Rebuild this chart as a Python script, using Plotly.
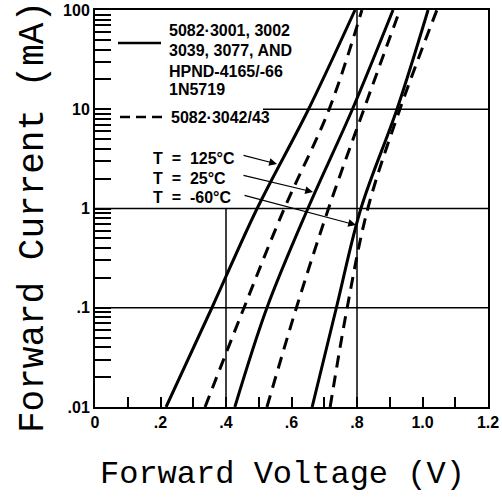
import math
import plotly.graph_objects as go

# ---- data ----
current_mA = [0.01, 0.1, 1, 10, 100]
solid_125C = [0.217, 0.357, 0.495, 0.652, 0.794]
solid_25C = [0.427, 0.525, 0.650, 0.786, 0.910]
solid_m60C = [0.663, 0.737, 0.812, 0.922, 1.017]
dash_125C = [0.336, 0.455, 0.578, 0.715, 0.815]
dash_25C = [0.525, 0.615, 0.713, 0.821, 0.931]
dash_m60C = [0.718, 0.770, 0.833, 0.931, 1.044]

x_tickvals = [0, 0.2, 0.4, 0.6, 0.8, 1.0, 1.2]
x_ticktext = ["0", ".2", ".4", ".6", ".8", "1.0", "1.2"]
x_minor = [0.1, 0.3, 0.5, 0.7, 0.9, 1.1]
y_tickvals = [0.01, 0.1, 1, 10, 100]
y_ticktext = [".01", ".1", "1", "10", "100"]
y_minor = [m * d for d in [0.01, 0.1, 1, 10] for m in range(2, 10)]

# partial grid segments (x list, y list)
grid_segments = [
    ([0.8, 0.8], [0.01, 100]),
    ([0.4, 0.4], [0.01, 1]),
    ([0, 1.2], [1, 1]),
    ([0, 1.2], [0.1, 0.1]),
    ([0.513, 1.2], [10, 10]),
]

fig = go.Figure()
for gx, gy in grid_segments:
    fig.add_trace(go.Scatter(x=gx, y=gy, mode="lines",
                             line=dict(color="black", width=1.5),
                             hoverinfo="skip", showlegend=False))

for vals in [solid_125C, solid_25C, solid_m60C]:
    fig.add_trace(go.Scatter(x=vals, y=current_mA, mode="lines",
                             line=dict(color="black", width=3, shape="spline", smoothing=1.0),
                             showlegend=False))
for vals in [dash_125C, dash_25C, dash_m60C]:
    fig.add_trace(go.Scatter(x=vals, y=current_mA, mode="lines",
                             line=dict(color="black", width=3, dash="12px,8px",
                                       shape="spline", smoothing=1.0),
                             showlegend=False))

PX_W, PX_H, L, T = 393, 397, 95, 10
def px(xp):
    return (xp - L) / PX_W
def py(yp):
    return (T + PX_H - yp) / PX_H

lab_font = dict(family="Liberation Sans, Arial, sans-serif", size=16, color="black", weight="bold")
annotations = []
legend_lines = [("5082·3001, 3002", 30), ("3039, 3077, AND", 50),
                ("HPND-4165/-66", 71), ("1N5719", 90)]
for txt, yy in legend_lines:
    annotations.append(dict(text=txt, xref="paper", yref="paper", x=px(167), y=py(yy),
                            xanchor="left", yanchor="middle", showarrow=False, font=lab_font))
annotations.append(dict(text="5082·3042/43", xref="paper", yref="paper", x=px(169), y=py(117),
                        xanchor="left", yanchor="middle", showarrow=False, font=lab_font))
t_labels = [("T\u00a0 =\u00a0 125°C", 158), ("T\u00a0 =\u00a0 25°C", 178), ("T\u00a0 =\u00a0 -60°C", 197)]
for txt, yy in t_labels:
    annotations.append(dict(text=txt, xref="paper", yref="paper", x=px(151), y=py(yy),
                            xanchor="left", yanchor="middle", showarrow=False, font=lab_font))

# arrows: tail pixel, head pixel
arrows = [((242, 155), (277, 164)), ((242, 175), (313, 192)), ((243, 195), (356, 225))]
for (tx, ty), (hx, hy) in arrows:
    annotations.append(dict(text="", xref="paper", yref="paper", x=px(hx), y=py(hy),
                            ax=tx - hx, ay=ty - hy, showarrow=True, arrowhead=2,
                            arrowsize=1.3, arrowwidth=1.2, arrowcolor="black", standoff=0))

title_font = dict(family="Courier New, Liberation Mono, monospace", size=32, color="black")
annotations.append(dict(text="Forward Voltage (V)", xref="paper", yref="paper",
                        x=px(282), y=py(474), xanchor="center", yanchor="middle",
                        showarrow=False, font=title_font))
annotations.append(dict(text="Forward Current (mA)", xref="paper", yref="paper",
                        x=px(33), y=py(217), xanchor="center", yanchor="middle",
                        textangle=-90, showarrow=False,
                        font=dict(family="Courier New, Liberation Mono, monospace", size=36, color="black")))

shapes = [
    dict(type="line", xref="paper", yref="paper", x0=px(118), x1=px(161), y0=py(43), y1=py(43),
         line=dict(color="black", width=2.5)),
    dict(type="line", xref="paper", yref="paper", x0=px(120), x1=px(166), y0=py(117), y1=py(117),
         line=dict(color="black", width=2.5, dash="10px,6px")),
]

fig.update_layout(
    width=502, height=500,
    margin=dict(l=95, r=14, t=10, b=93, autoexpand=False),
    paper_bgcolor="white", plot_bgcolor="white",
    showlegend=False,
    annotations=annotations, shapes=shapes,
    xaxis=dict(range=[0, 1.2], showgrid=False, zeroline=False, automargin=False,
               showline=True, linecolor="black", linewidth=2, mirror=True,
               ticks="inside", ticklen=10, tickwidth=1.5, tickcolor="black",
               tickmode="array", tickvals=x_tickvals, ticktext=x_ticktext,
               tickfont=lab_font,
               minor=dict(tickmode="array", tickvals=x_minor, ticks="inside",
                          ticklen=10, tickwidth=1.5, tickcolor="black", showgrid=False)),
    yaxis=dict(type="log", range=[-2, 2], showgrid=False, zeroline=False, automargin=False,
               showline=True, linecolor="black", linewidth=2, mirror=True,
               ticks="inside", ticklen=16, tickwidth=1.5, tickcolor="black",
               tickmode="array", tickvals=y_tickvals, ticktext=y_ticktext,
               tickfont=lab_font,
               minor=dict(tickmode="array", tickvals=y_minor, ticks="inside",
                          ticklen=16, tickwidth=1.5, tickcolor="black", showgrid=False)),
)

fig.write_html("out.html", config={"displayModeBar": False},
               post_script="document.body.style.margin='0';")
